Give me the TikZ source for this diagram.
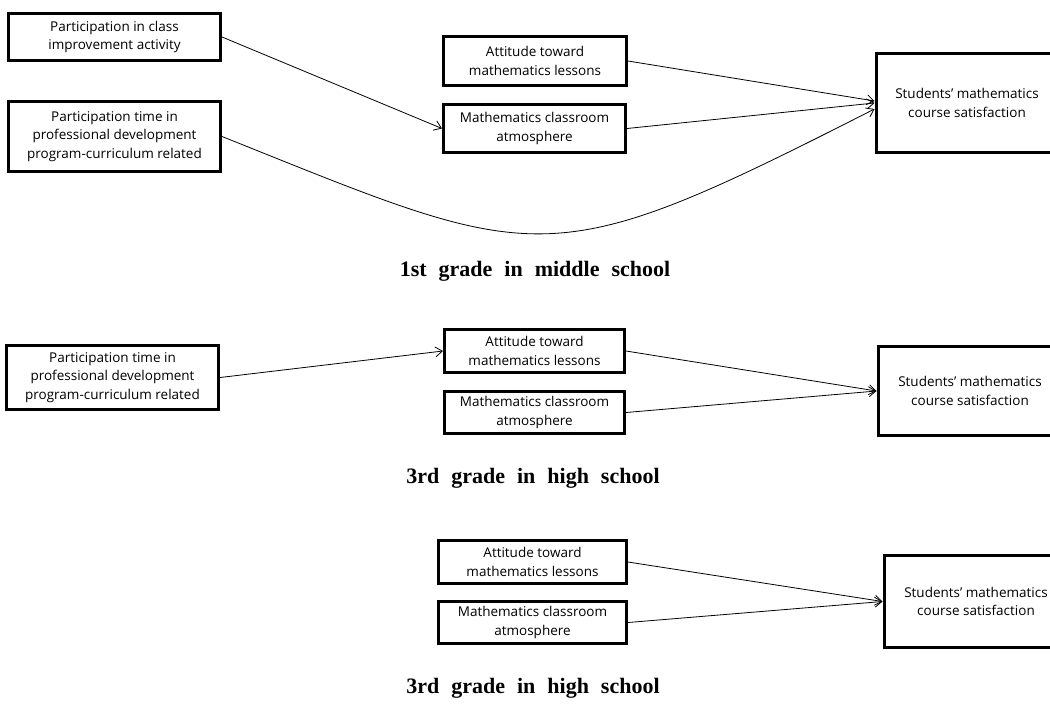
\documentclass[tikz,border=0pt]{standalone}
\usepackage{fontspec}
\setmainfont{Open Sans}
\newfontfamily\capfont{Liberation Serif}
\usetikzlibrary{arrows.meta,calc}
\tikzset{
  box/.style={draw, line width=3pt, align=center, inner sep=0pt,
    font=\fontsize{13.5}{18.5}\selectfont},
  arr/.style={line width=0.8pt, -{Straight Barb[length=7pt,width=10pt,line width=0.8pt]}},
  captext/.style={font=\capfont\bfseries\fontsize{22}{26}\selectfont}
}
\begin{document}
\begin{tikzpicture}[x=1pt,y=-1pt]
\clip (0,0) rectangle (1050,705);
% ---------- panel 1 ----------
\node[box, minimum width=212pt, minimum height=47pt] (A) at (114.5,37) {Participation in class\\improvement activity};
\node[box, minimum width=212pt, minimum height=70pt] (B) at (114.5,136.5) {Participation time in\\professional development\\program-curriculum related};
\node[box, minimum width=183pt, minimum height=49pt] (C) at (535,61) {Attitude toward\\mathematics lessons};
\node[box, minimum width=182pt, minimum height=48pt] (D) at (534.5,128.5) {Mathematics classroom\\atmosphere};
\node[box, minimum width=182pt, minimum height=99pt] (E) at (967,103) {Students' mathematics\\course satisfaction};
\draw[arr] (A.east) -- (D.west);
\draw[arr] (C.east) -- ([yshift=2pt]E.west);
\draw[arr] (D.east) -- (E.west);
\draw[arr] (B.east) .. controls +(320,128) and +(-330,168) .. ([yshift=-6pt]E.west);
\node[captext] (cap1) at (535,271) {\spaceskip=12pt\relax 1st grade in middle school};
% ---------- panel 2 ----------
\node[box, minimum width=212pt, minimum height=64pt] (F) at (112.5,377.5) {Participation time in\\professional development\\program-curriculum related};
\node[box, minimum width=180pt, minimum height=43pt] (G) at (534.5,351) {Attitude toward\\mathematics lessons};
\node[box, minimum width=180pt, minimum height=42pt] (H) at (534.5,412.5) {Mathematics classroom\\atmosphere};
\node[box, minimum width=184pt, minimum height=89pt] (I) at (970,391) {Students' mathematics\\course satisfaction};
\draw[arr] (F.east) -- (G.west);
\draw[arr] (G.east) -- (I.west);
\draw[arr] (H.east) -- (I.west);
\node[captext] (cap2) at (533,478) {\spaceskip=12pt\relax 3rd grade in high school};
% ---------- panel 3 ----------
\node[box, minimum width=188pt, minimum height=43pt] (J) at (532.5,562) {Attitude toward\\mathematics lessons};
\node[box, minimum width=188pt, minimum height=42pt] (K) at (532.5,622.5) {Mathematics classroom\\atmosphere};
\node[box, minimum width=184pt, minimum height=92pt] (L) at (976,601.5) {Students' mathematics\\course satisfaction};
\draw[arr] (J.east) -- (L.west);
\draw[arr] (K.east) -- (L.west);
\node[captext] (cap3) at (533,688) {\spaceskip=12pt\relax 3rd grade in high school};
\end{tikzpicture}
\end{document}
